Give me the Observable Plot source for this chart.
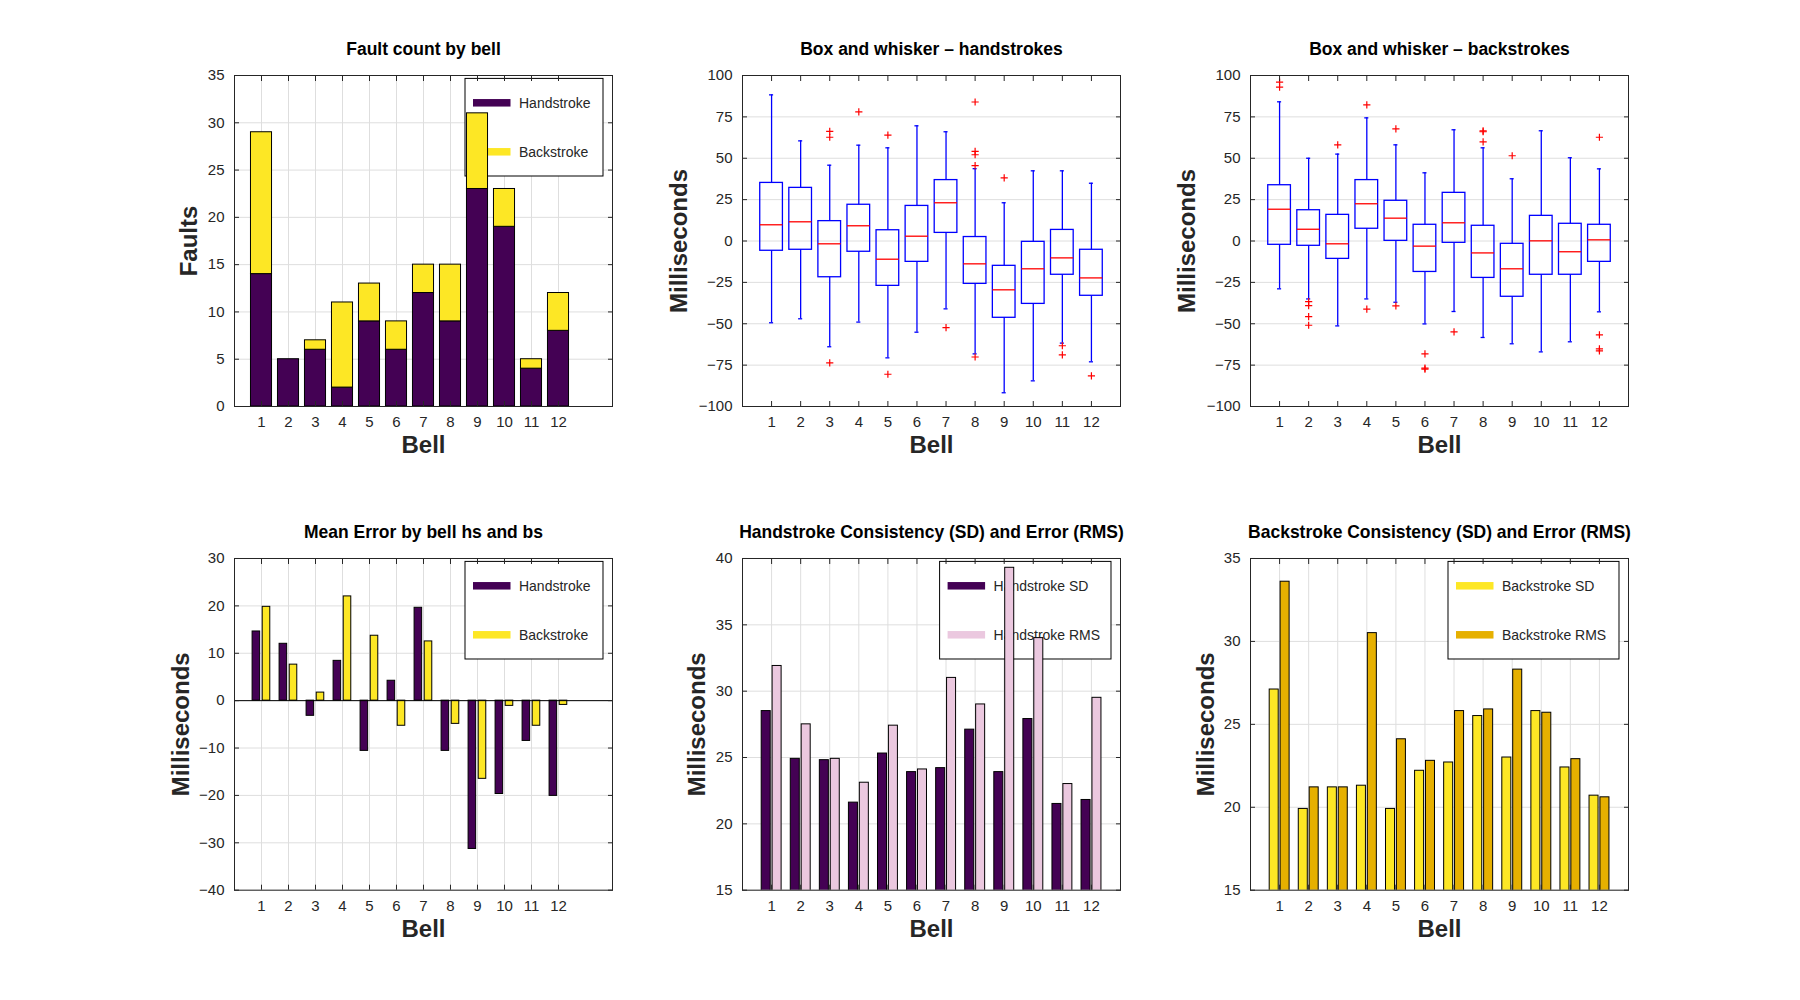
<!DOCTYPE html>
<html>
<head>
<meta charset="utf-8">
<script src="https://cdn.jsdelivr.net/npm/d3@7"></script>
<script src="https://cdn.jsdelivr.net/npm/@observablehq/plot@0.6"></script>
<style>
  html, body { margin: 0; padding: 0; background: #fff; }
  #root { position: relative; width: 1800px; height: 1000px; overflow: hidden; background: #fff; }
</style>
</head>
<body>
<div id="root"></div>
<script>
// ---------------- DATA ----------------
const bells = [1, 2, 3, 4, 5, 6, 7, 8, 9, 10, 11, 12];

const faultHand = [14, 5, 6, 2, 9, 6, 12, 9, 23, 19, 4, 8];
const faultBack = [15, 0, 1, 9, 4, 3, 3, 6, 8, 4, 1, 4];

const meanHand = [14.6, 12.0, -3.2, 8.4, -10.6, 4.2, 19.6, -10.6, -31.3, -19.7, -8.5, -20.1];
const meanBack = [19.8, 7.6, 1.7, 22.0, 13.7, -5.3, 12.5, -4.9, -16.5, -1.1, -5.3, -0.9];

const hsSD  = [28.5, 24.9, 24.8, 21.6, 25.3, 23.9, 24.2, 27.1, 23.9, 27.9, 21.5, 21.8];
const hsRMS = [31.9, 27.5, 24.9, 23.1, 27.4, 24.1, 31.0, 29.0, 39.3, 34.0, 23.0, 29.5];
const bsSD  = [27.1, 19.9, 21.2, 21.3, 19.9, 22.2, 22.7, 25.5, 23.0, 25.8, 22.4, 20.7];
const bsRMS = [33.6, 21.2, 21.2, 30.5, 24.1, 22.8, 25.8, 25.9, 28.3, 25.7, 22.9, 20.6];

// handstroke box plots
const hsLow = [-49.4, -47.0, -63.9, -49.0, -70.6, -55.1, -41.0, -68.2, -91.7, -84.5, -61.7, -73.0];
const hsQ1  = [-5.9, -5.3, -21.9, -6.5, -27.1, -12.6, 4.9, -25.9, -46.4, -38.0, -20.4, -33.1];
const hsMed = [9.8, 11.6, -1.7, 9.2, -11.0, 2.9, 23.1, -13.8, -29.5, -16.8, -10.2, -22.3];
const hsQ3  = [35.1, 32.1, 12.0, 21.9, 6.5, 21.2, 36.8, 2.4, -15.0, -0.5, 6.7, -5.3];
const hsHigh = [88.3, 60.5, 45.8, 57.9, 56.3, 69.6, 66.0, 43.7, 23.1, 42.4, 42.4, 34.9];
const hsOutliers = [[], [], [66.2, 62.7, -73.6], [78.0], [64.0, -80.5], [], [-52.3],
  [84.0, 54.2, 52.1, 45.5, -70.1], [38.2], [], [-63.3, -68.8], [-81.5]];

// backstroke box plots
const bsLow = [-28.9, -35.0, -51.3, -35.0, -37.0, -50.1, -42.6, -58.3, -62.1, -67.0, -60.9, -42.8];
const bsQ1  = [-2.3, -2.9, -10.8, 7.4, 0.1, -18.7, -1.1, -22.3, -33.7, -20.4, -20.4, -12.6];
const bsMed = [19.2, 7.1, -1.7, 22.5, 13.8, -3.1, 11.0, -7.2, -16.8, 0.1, -6.5, 0.7];
const bsQ3  = [33.7, 18.6, 15.8, 36.8, 24.3, 9.8, 29.1, 9.2, -1.7, 15.2, 10.4, 9.8];
const bsHigh = [84.1, 50.0, 52.5, 74.4, 58.1, 41.2, 67.2, 56.3, 37.6, 66.6, 50.3, 43.6];
const bsOutliers = [[96.0, 93.0], [-36.6, -39.0, -45.7, -50.9], [58.1], [82.3, -41.2], [67.8, -39.2],
  [-68.2, -76.8, -77.4], [-54.9], [66.6, 66.0, 59.9], [51.5], [], [], [62.7, -56.7, -65.2, -66.4]];

const faultTicks = [0, 5, 10, 15, 20, 25, 30, 35];
const boxTicks = [-100, -75, -50, -25, 0, 25, 50, 75, 100];
const meanTicks = [-40, -30, -20, -10, 0, 10, 20, 30];
const hsTicks = [15, 20, 25, 30, 35, 40];
const bsTicks = [15, 20, 25, 30, 35];

const titles = ["Fault count by bell", "Box and whisker \u2013 handstrokes", "Box and whisker \u2013 backstrokes",
  "Mean Error by bell hs and bs", "Handstroke Consistency (SD) and Error (RMS)", "Backstroke Consistency (SD) and Error (RMS)"];
const seriesLabels = ["Handstroke", "Backstroke"];
const hsLegend = ["Handstroke SD", "Handstroke RMS"];
const bsLegend = ["Backstroke SD", "Backstroke RMS"];

// ---------------- STYLE ----------------
const FONT = "'Liberation Sans', Arial, Helvetica, sans-serif";
const PURPLE = "#440154", YELLOW = "#fde725", PINK = "#ebc8df", GOLD = "#e6b000";
const GRID = "#dedede", AX = "#262626", TXT = "#262626";
const BLUE = "#0000ff", RED = "#ff0000";
const PLOT_LEFT = [234.3, 742.3, 1250.3];
const PLOT_TOP = [75, 558.3];
const PW = 378, PH = [331, 331.7];
const ML = 100, MR = 20, MT = 60, MB = 70;

const fmt = d => d < 0 ? "\u2212" + Math.abs(d) : String(d);

const rows = bells.map((b, i) => ({
  bell: b, fh: faultHand[i], fb: faultBack[i],
  mh: meanHand[i], mb: meanBack[i],
  hsd: hsSD[i], hrms: hsRMS[i], bsd: bsSD[i], brms: bsRMS[i],
  hlo: hsLow[i], hq1: hsQ1[i], hmed: hsMed[i], hq3: hsQ3[i], hhi: hsHigh[i],
  blo: bsLow[i], bq1: bsQ1[i], bmed: bsMed[i], bq3: bsQ3[i], bhi: bsHigh[i]
}));
const hsOut = hsOutliers.flatMap((vals, i) => vals.map(v => ({bell: bells[i], v})));
const bsOut = bsOutliers.flatMap((vals, i) => vals.map(v => ({bell: bells[i], v})));

const plusSymbol = {
  draw(context, size) {
    const r = Math.sqrt(size / Math.PI);
    context.moveTo(-r, 0); context.lineTo(r, 0);
    context.moveTo(0, -r); context.lineTo(0, r);
  }
};

function legendMark(labels, colors, boxWidth) {
  return (index, scales, values, dims) => {
    const right = dims.width - dims.marginRight - 9;
    const top = dims.marginTop + 3.4;
    const left = right - boxWidth;
    const g = d3.create("svg:g");
    g.append("rect").attr("x", left).attr("y", top).attr("width", boxWidth).attr("height", 97.6)
      .attr("fill", "#fff").attr("stroke", "#000").attr("stroke-width", 1);
    labels.forEach((lab, i) => {
      const cy = top + 24.4 + i * 49;
      g.append("rect").attr("x", left + 8).attr("y", cy - 3.75).attr("width", 37.5).attr("height", 7.5)
        .attr("fill", colors[i]);
      g.append("text").attr("x", left + 54).attr("y", cy).attr("dy", "0.36em")
        .attr("text-anchor", "start")
        .attr("font-size", 14).attr("font-family", FONT).attr("fill", TXT).text(lab);
    });
    return g.node();
  };
}

function panel({col, row, xDomain, yTicks, xGrid, title, ylabel, ylabelDx, body}) {
  const ph = PH[row];
  const chart = Plot.plot({
    width: PW + ML + MR, height: ph + MT + MB,
    marginLeft: ML, marginRight: MR, marginTop: MT, marginBottom: MB,
    x: {type: "linear", domain: xDomain},
    y: {type: "linear", domain: [yTicks[0], yTicks[yTicks.length - 1]]},
    style: {fontFamily: FONT, fontSize: "15px", color: TXT, background: "transparent", overflow: "visible"},
    marks: [
      xGrid ? Plot.gridX(bells, {stroke: GRID, strokeOpacity: 1, strokeWidth: 1}) : null,
      Plot.gridY(yTicks, {stroke: GRID, strokeOpacity: 1, strokeWidth: 1}),
      ...body,
      Plot.axisX(bells, {anchor: "bottom", tickSize: 5, dy: -5, fill: "none", stroke: AX, label: null}),
      Plot.axisX(bells, {anchor: "top", tickSize: 5, dy: 5, fill: "none", stroke: AX, label: null}),
      Plot.axisY(yTicks, {anchor: "left", tickSize: 5, dx: 5, fill: "none", stroke: AX, label: null}),
      Plot.axisY(yTicks, {anchor: "right", tickSize: 5, dx: -5, fill: "none", stroke: AX, label: null}),
      Plot.axisX(bells, {anchor: "bottom", tickSize: 0, tickPadding: 10, stroke: "none", fill: TXT,
        fontSize: 15, tickFormat: fmt, label: null}),
      Plot.axisY(yTicks, {anchor: "left", tickSize: 0, tickPadding: 10, stroke: "none", fill: TXT,
        fontSize: 15, tickFormat: fmt, label: null}),
      Plot.frame({stroke: AX, strokeWidth: 1}),
      Plot.text([title], {frameAnchor: "top", dy: -26.5, text: d => d, fontSize: 17.5, fontWeight: "bold",
        fill: "#000", fontFamily: FONT, textAnchor: "middle", lineAnchor: "middle"}),
      Plot.text(["Bell"], {frameAnchor: "bottom", dy: 39, text: d => d, fontSize: 24, fontWeight: "bold",
        fill: TXT, fontFamily: FONT, textAnchor: "middle", lineAnchor: "middle"}),
      Plot.text([ylabel], {frameAnchor: "left", dx: -ylabelDx, rotate: -90, text: d => d, fontSize: 24,
        fontWeight: "bold", fill: TXT, fontFamily: FONT, textAnchor: "middle", lineAnchor: "middle"})
    ]
  });
  chart.style.position = "absolute";
  chart.style.left = (PLOT_LEFT[col] - ML) + "px";
  chart.style.top = (PLOT_TOP[row] - MT) + "px";
  document.getElementById("root").appendChild(chart);
}

function boxMarks(pre, outliers) {
  const hw = 0.39, cw = 0.07;
  return [
    Plot.ruleX(rows, {x: "bell", y1: pre + "q3", y2: pre + "hi", stroke: BLUE, strokeWidth: 1.3}),
    Plot.ruleX(rows, {x: "bell", y1: pre + "lo", y2: pre + "q1", stroke: BLUE, strokeWidth: 1.3}),
    Plot.ruleY(rows, {y: pre + "hi", x1: d => d.bell - cw, x2: d => d.bell + cw, stroke: BLUE, strokeWidth: 1.3}),
    Plot.ruleY(rows, {y: pre + "lo", x1: d => d.bell - cw, x2: d => d.bell + cw, stroke: BLUE, strokeWidth: 1.3}),
    Plot.rect(rows, {x1: d => d.bell - hw, x2: d => d.bell + hw, y1: pre + "q1", y2: pre + "q3",
      fill: "none", stroke: BLUE, strokeWidth: 1.3}),
    Plot.ruleY(rows, {y: pre + "med", x1: d => d.bell - hw, x2: d => d.bell + hw, stroke: RED, strokeWidth: 1.3}),
    Plot.dot(outliers, {x: "bell", y: "v", symbol: plusSymbol, r: 3.6, fill: "none", stroke: RED, strokeWidth: 1.2})
  ];
}

// 1. Fault count by bell (stacked)
panel({
  col: 0, row: 0, xDomain: [0, 14], yTicks: faultTicks, xGrid: true, title: titles[0],
  ylabel: "Faults", ylabelDx: 45,
  body: [
    legendMark(seriesLabels, [PURPLE, YELLOW], 138),
    Plot.rectY(rows, {x1: d => d.bell - 0.39, x2: d => d.bell + 0.39, y1: 0, y2: "fh",
      fill: PURPLE, stroke: "#000", strokeWidth: 1}),
    Plot.rectY(rows, {x1: d => d.bell - 0.39, x2: d => d.bell + 0.39, y1: "fh", y2: d => d.fh + d.fb,
      fill: YELLOW, stroke: "#000", strokeWidth: 1})
  ]
});

// 2. Box and whisker - handstrokes
panel({
  col: 1, row: 0, xDomain: [0, 13], yTicks: boxTicks, xGrid: false, title: titles[1],
  ylabel: "Milliseconds", ylabelDx: 63,
  body: boxMarks("h", hsOut)
});

// 3. Box and whisker - backstrokes
panel({
  col: 2, row: 0, xDomain: [0, 13], yTicks: boxTicks, xGrid: false, title: titles[2],
  ylabel: "Milliseconds", ylabelDx: 63,
  body: boxMarks("b", bsOut)
});

// 4. Mean error
panel({
  col: 0, row: 1, xDomain: [0, 14], yTicks: meanTicks, xGrid: true, title: titles[3],
  ylabel: "Milliseconds", ylabelDx: 53,
  body: [
    legendMark(seriesLabels, [PURPLE, YELLOW], 138),
    Plot.rectY(rows, {x1: d => d.bell - 0.33, x2: d => d.bell - 0.05, y1: 0, y2: "mh",
      fill: PURPLE, stroke: "#000", strokeWidth: 1}),
    Plot.rectY(rows, {x1: d => d.bell + 0.045, x2: d => d.bell + 0.325, y1: 0, y2: "mb",
      fill: YELLOW, stroke: "#000", strokeWidth: 1}),
    Plot.ruleY([0], {stroke: "#000", strokeWidth: 1})
  ]
});

// 5. Handstroke SD & RMS
panel({
  col: 1, row: 1, xDomain: [0, 13], yTicks: hsTicks, xGrid: true, title: titles[4],
  ylabel: "Milliseconds", ylabelDx: 45,
  body: [
    legendMark(hsLegend, [PURPLE, PINK], 171.4),
    Plot.rectY(rows, {x1: d => d.bell - 0.34, x2: d => d.bell - 0.03, y1: 0, y2: "hsd",
      fill: PURPLE, stroke: "#000", strokeWidth: 1, clip: true}),
    Plot.rectY(rows, {x1: d => d.bell + 0.035, x2: d => d.bell + 0.345, y1: 0, y2: "hrms",
      fill: PINK, stroke: "#000", strokeWidth: 1, clip: true})
  ]
});

// 6. Backstroke SD & RMS
panel({
  col: 2, row: 1, xDomain: [0, 13], yTicks: bsTicks, xGrid: true, title: titles[5],
  ylabel: "Milliseconds", ylabelDx: 44,
  body: [
    legendMark(bsLegend, [YELLOW, GOLD], 171),
    Plot.rectY(rows, {x1: d => d.bell - 0.34, x2: d => d.bell - 0.03, y1: 0, y2: "bsd",
      fill: YELLOW, stroke: "#000", strokeWidth: 1, clip: true}),
    Plot.rectY(rows, {x1: d => d.bell + 0.035, x2: d => d.bell + 0.345, y1: 0, y2: "brms",
      fill: GOLD, stroke: "#000", strokeWidth: 1, clip: true})
  ]
});
</script>
</body>
</html>
